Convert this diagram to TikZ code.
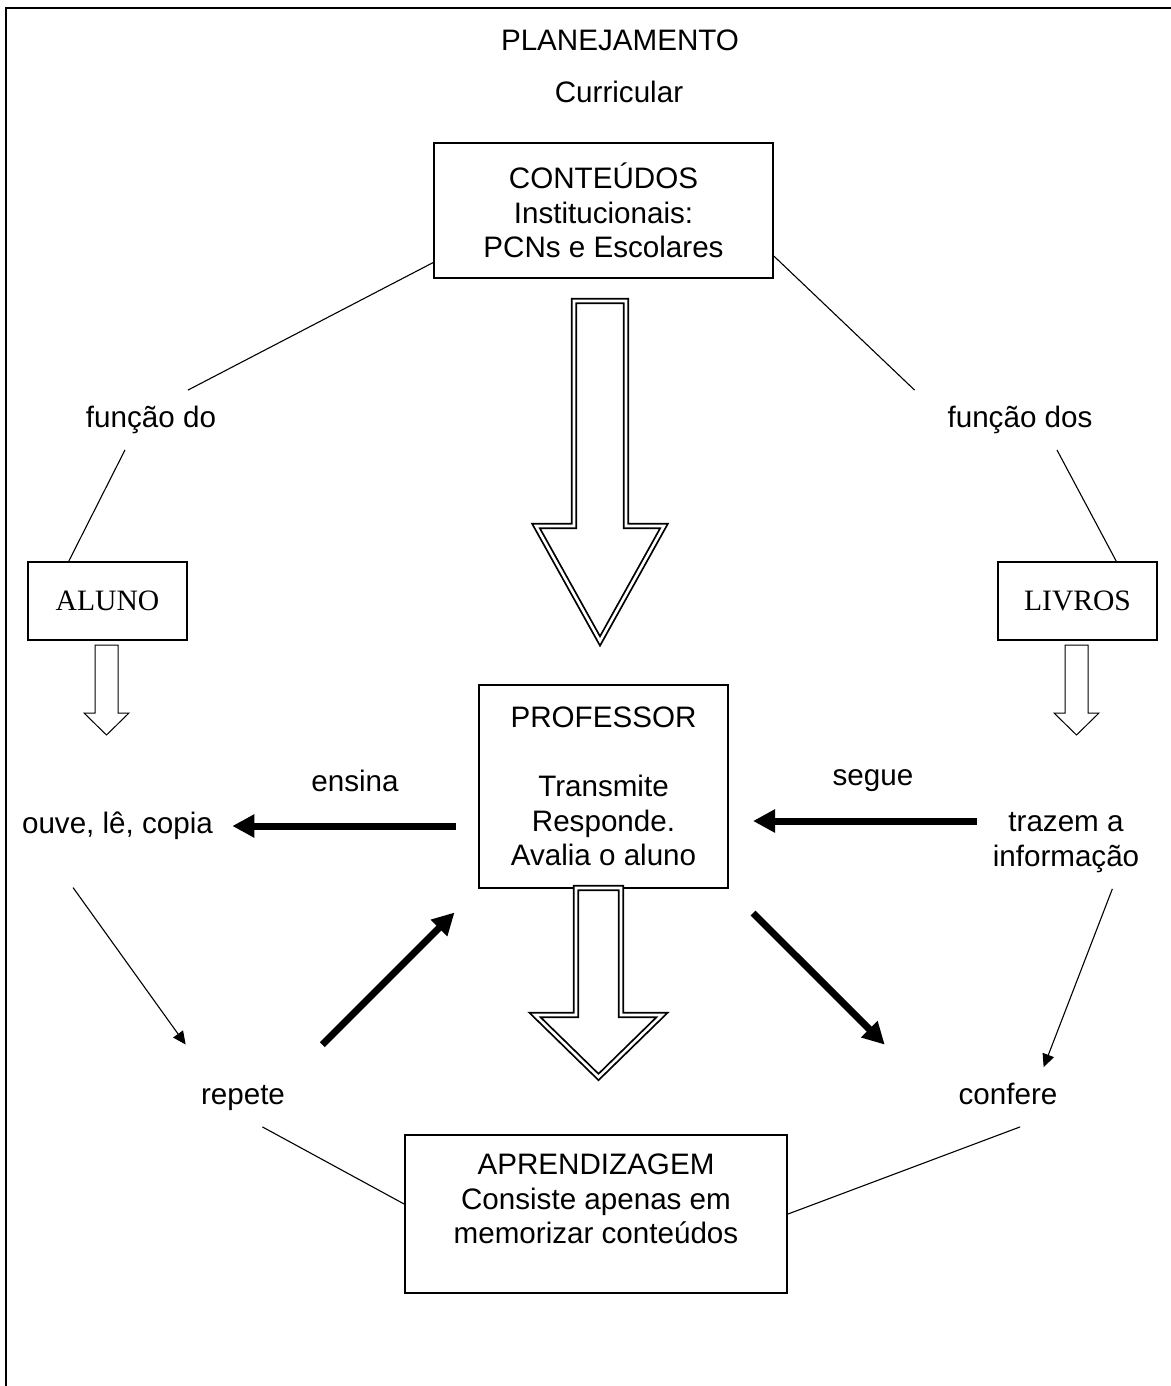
\documentclass[tikz,border=0pt]{standalone}
\usepackage{fontspec}
\setmainfont{Liberation Sans}
\newfontfamily\boxserif{Liberation Serif}
\usepackage{tikz}
\usetikzlibrary{arrows.meta,positioning}
\newcommand{\nodesize}{\fontsize{14.8}{17.25}\selectfont}

\begin{document}
\begin{tikzpicture}[x=0.5pt,y=-0.5pt,
  every node/.style={font=\nodesize},
  box node/.style={draw,line width=1pt,inner sep=0pt,align=center},
  lbl/.style={inner xsep=3pt,inner ysep=8pt,text height=10.5pt,text depth=3pt},
  lbl multi/.style={inner xsep=3pt,inner ysep=8pt,align=center},
  conn/.style={line width=0.55pt},
  light arrow/.style={line width=0.55pt,-{Triangle[length=6.5pt,width=6pt]}},
  heavy arrow/.style={line width=3.5pt,-{Triangle[length=11pt,width=11pt]}},
  block arrow/.style={draw,fill=white,line width=0.9pt,double,double distance=1.3pt},
  small arrow/.style={draw,line width=0.5pt}]

\useasboundingbox (0,0) rectangle (1171,1386);
\draw[line width=1pt] (1171,8) -- (6,8) -- (6,1386);

% titles
\node (plan) at (620,40) {PLANEJAMENTO};
\node (curricular) at (619,92) {Curricular};

% boxes
\node[box node,minimum width=169.5pt,minimum height=67.5pt] (conteudos) at (603.5,210.5)
  {CONTEÚDOS\\Institucionais:\\PCNs e Escolares};
\node[box node,font={\boxserif\nodesize},minimum width=79.5pt,minimum height=39pt] (aluno) at (107.5,601) {ALUNO};
\node[box node,font={\boxserif\nodesize},minimum width=79.5pt,minimum height=39pt] (livros) at (1077.5,601) {LIVROS};
\node[box node,minimum width=124.5pt,minimum height=101.5pt] (professor) at (603.5,786.5)
  {PROFESSOR\\[17.25pt]Transmite\\Responde.\\Avalia o aluno};
\node[box node,minimum width=191pt,minimum height=79pt] (aprendizagem) at (596,1214) {};
\node[align=center,inner sep=0pt,below=9.85pt of aprendizagem.north] (aprtext)
  {APRENDIZAGEM\\Consiste apenas em\\memorizar conteúdos};

% labels
\node[lbl] (funcaodo) at (151,420) {função do};
\node[lbl] (funcaodos) at (1020,420) {função dos};
\node[lbl] (ouve) at (117.5,826) {ouve, lê, copia};
\node[lbl] (ensina) at (355,784) {ensina};
\node[lbl] (segue) at (873,778) {segue};
\node[lbl multi] (trazem) at (1066,842.5) {trazem a\\informação};
\node[lbl] (repete) at (243,1097) {repete};
\node[lbl] (confere) at (1008,1097) {confere};

% plain lines
\draw[conn] (conteudos.197) -- (funcaodo.39);
\draw[conn] (funcaodo.229) -- (aluno.134);
\draw[conn] (conteudos.-15) -- ([xshift=-13.3pt]funcaodos.north west);
\draw[conn] (funcaodos.-39) -- (livros.46);
\draw[conn] (repete.-57) -- (aprendizagem.177);
\draw[conn] (confere.-68) -- (aprendizagem.east);

% block arrows
\draw[block arrow] (574,301) -- (626,301) -- (626,526) -- (664,526) -- (600,641)
  -- (536,526) -- (574,526) -- cycle;
\draw[block arrow] (576,888) -- (621,888) -- (621,1015) -- (662,1015) -- (598.5,1077)
  -- (535,1015) -- (576,1015) -- cycle;
\draw[small arrow] (95,645) -- (118,645) -- (118,713) -- (129,713) -- (106.5,735)
  -- (84,713) -- (95,713) -- cycle;
\draw[small arrow] (1065,645) -- (1088,645) -- (1088,713) -- (1099,713) -- (1076.5,735)
  -- (1054,713) -- (1065,713) -- cycle;

% heavy arrows
\draw[heavy arrow,shorten <=11pt,shorten >=6.5pt] (ouve -| professor.west) -- (ouve.east);
\coordinate (trazem-in) at ([yshift=10.75pt]trazem.west);
\draw[heavy arrow,shorten <=4.9pt,shorten >=12pt] (trazem-in) -- (trazem-in -| professor.east);
\draw[heavy arrow,shorten <=15.9pt,shorten >=16.6pt] ([xshift=4.25pt]repete.north east) -- (professor.south west);
\draw[heavy arrow,shorten <=17pt,shorten >=15.9pt] (professor.south east) -- ([xshift=-22.5pt]confere.north west);

% light arrows
\draw[light arrow,shorten <=19.5pt,shorten >=13.9pt] (ouve.204) -- (repete.144);
\draw[light arrow] (trazem.-45) -- (confere.40);

\end{tikzpicture}
\end{document}
